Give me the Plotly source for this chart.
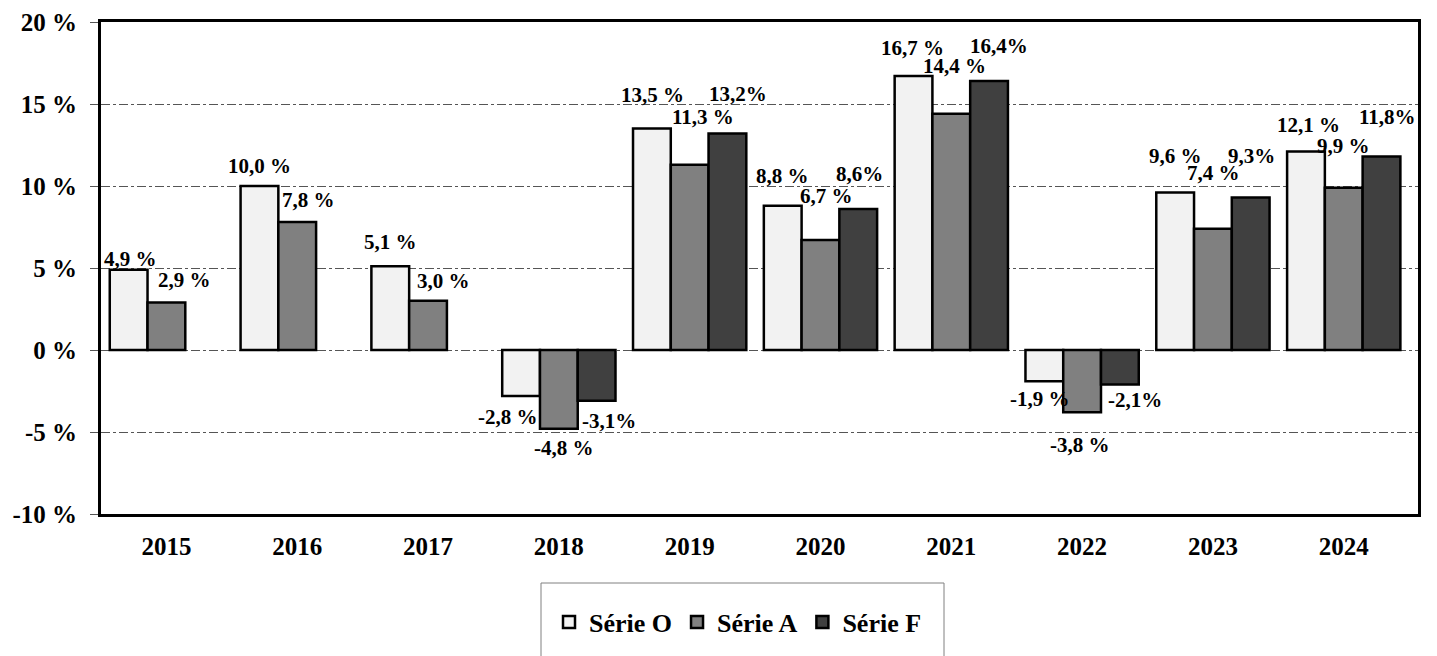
import plotly.graph_objects as go

# ---- data ----
years = ["2015", "2016", "2017", "2018", "2019", "2020", "2021", "2022", "2023", "2024"]
serie_o = [4.9, 10.0, 5.1, -2.8, 13.5, 8.8, 16.7, -1.9, 9.6, 12.1]
serie_a = [2.9, 7.8, 3.0, -4.8, 11.3, 6.7, 14.4, -3.8, 7.4, 9.9]
serie_f = [None, None, None, -3.1, 13.2, 8.6, 16.4, -2.1, 9.3, 11.8]
series_names = ["Série O", "Série A", "Série F"]
y_tick_vals = [-10, -5, 0, 5, 10, 15, 20]
y_tick_text = ["-10 %", "-5 %", "0 %", "5 %", "10 %", "15 %", "20 %"]

# ---- style ----
colors = ["#f2f2f2", "#808080", "#404040"]
label_sep = [" ", " ", ""]          # "4,9 %" vs "13,2%"
# label offsets in pixels (dx right, dy down) relative to bar end, per series
label_dx = [
    [2, 0, 0, -13, 1, 0, -1, -4, 0, 3],
    [18, 11, 15, 5, 13, 6, 3, -2, 1, 0],
    [0, 0, 0, 12, 11, 1, 10, 15, 1, 6],
]
label_dy = [
    [-11, -20, -24, 21, -34, -30, -28, 18, -37, -27],
    [-22, -22, -20, 19, -48, -44, -48, 33, -56, -42],
    [0, 0, 0, 20, -40, -35, -35, 16, -41, -39],
]
FONT = "Liberation Serif, Times New Roman, DejaVu Serif, serif"
bargap = 0.134

fig = go.Figure()
all_series = [serie_o, serie_a, serie_f]
for name, vals, col in zip(series_names, all_series, colors):
    fig.add_trace(go.Bar(
        x=years, y=vals, name=name,
        marker=dict(color=col, line=dict(color="black", width=2.5)),
    ))

annotations = []
slot = (1 - bargap) / 3
for s, vals in enumerate(all_series):
    for i, v in enumerate(vals):
        if v is None:
            continue
        txt = f"{v:.1f}".replace(".", ",") + label_sep[s] + "%"
        annotations.append(dict(
            x=i + (s - 1) * slot, y=v, xref="x", yref="y",
            text=f"<b>{txt}</b>", showarrow=False,
            xanchor="center", yanchor="middle",
            xshift=label_dx[s][i], yshift=-label_dy[s][i],
            font=dict(family=FONT, size=21, color="black"),
        ))

W, H = 1437, 656
L, R, T, B = 101, 19, 22, 142
pw, ph = W - L - R, H - T - B

def px_to_paper(px, py):
    return (px - L) / pw, (H - B - py) / ph

x0, y1 = px_to_paper(541, 583)
x1, y0 = px_to_paper(944, 668)

fig.update_layout(
    width=W, height=H,
    margin=dict(l=L, r=R, t=T, b=B, autoexpand=False),
    paper_bgcolor="white", plot_bgcolor="white",
    barmode="group", bargap=bargap, bargroupgap=0,
    font=dict(family=FONT, color="black"),
    annotations=annotations,
    showlegend=True,
    legend=dict(
        orientation="h", xref="container", yref="container",
        x=738 / W, y=1 - 622 / H, xanchor="center", yanchor="middle",
        font=dict(family=FONT, size=26, color="black", weight="bold"),
        bgcolor="rgba(0,0,0,0)", itemclick=False, itemdoubleclick=False,
        itemwidth=30, tracegroupgap=0,
    ),
    shapes=[dict(type="rect", xref="paper", yref="paper",
                 x0=x0, x1=x1, y0=y0, y1=y1,
                 line=dict(color="#808080", width=1), fillcolor="rgba(0,0,0,0)",
                 layer="below")],
)
fig.update_xaxes(
    type="category", showline=True, linecolor="black", linewidth=3, mirror=True,
    showgrid=False, ticks="", ticklabelstandoff=8, automargin=False,
    tickfont=dict(family=FONT, size=25, color="black", weight="bold"),
)
fig.update_yaxes(
    range=[-10, 20], tickvals=y_tick_vals, ticktext=y_tick_text,
    showline=True, linecolor="black", linewidth=3, mirror=True,
    showgrid=True, gridcolor="#555555", gridwidth=1, griddash="dashdot",
    zeroline=False, ticks="outside", ticklen=8, tickcolor="#555555",
    tickfont=dict(family=FONT, size=25, color="black", weight="bold"),
    ticklabelstandoff=8, automargin=False,
)

fig.write_html(
    "out.html",
    config={"displayModeBar": False},
    post_script="document.body.style.margin='0';document.body.style.overflow='hidden';",
)
